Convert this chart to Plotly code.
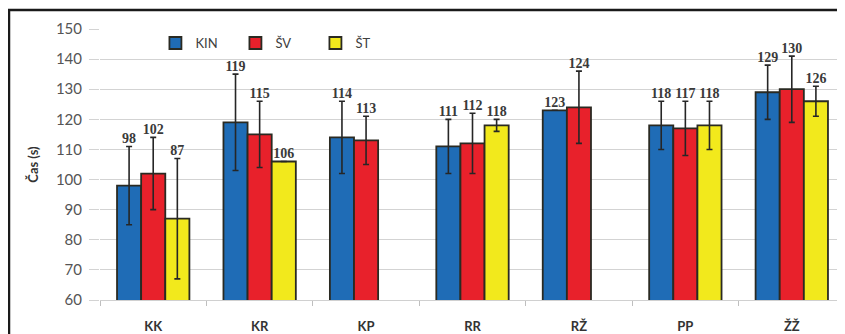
import plotly.graph_objects as go

categories = ["KK", "KR", "KP", "RR", "RŽ", "PP", "ŽŽ"]
series_names = ["KIN", "ŠV", "ŠT"]
kin_values = [98, 119, 114, 111, 123, 118, 129]
sv_values = [102, 115, 113, 112, 124, 117, 130]
st_values = [87, 106, None, 118, None, 118, 126]
kin_err = [13, 16, 12, 9, None, 8, 9]
sv_err = [12, 11, 8, 10, 12, 9, 11]
st_err = [20, None, None, 2, None, 8, 5]
y_ticks = [60, 70, 80, 90, 100, 110, 120, 130, 140, 150]

colors = ["#1f6cb6", "#e8212b", "#f2e91c"]
values = [kin_values, sv_values, st_values]
errors = [kin_err, sv_err, st_err]

fig = go.Figure()
for i, name in enumerate(series_names):
    fig.add_trace(go.Bar(
        x=categories, y=values[i], name=name, offsetgroup=str(i),
        marker=dict(color=colors[i], line=dict(color="#2a2a22", width=1.8)),
        error_y=dict(type="data", array=errors[i], visible=True,
                     color="#262626", thickness=1.6, width=3),
    ))

for i, name in enumerate(series_names):
    tops, texts = [], []
    for v, e in zip(values[i], errors[i]):
        if v is None:
            tops.append(None)
            texts.append("")
        else:
            tops.append(v + (e or 0))
            texts.append(str(v))
    fig.add_trace(go.Scatter(
        x=categories, y=tops, text=texts, mode="text", textposition="top center",
        offsetgroup=str(i), showlegend=False, hoverinfo="skip",
        textfont=dict(family="Liberation Serif", size=14, color="#3a3a3a", weight="bold"),
    ))

fig.update_layout(
    width=837, height=326,
    margin=dict(l=92, r=0, t=21, b=34, autoexpand=False),
    paper_bgcolor="white", plot_bgcolor="white",
    barmode="group", bargap=0.32, bargroupgap=0,
    scattermode="group", scattergap=0.32,
    font=dict(family="Lato", size=13, color="#4a4a4a"),
    showlegend=True,
    legend=dict(orientation="h", x=0.0744, y=1.0035, xanchor="left", yanchor="top",
                bgcolor="rgba(0,0,0,0)", font=dict(family="Lato", size=13, color="#404040"),
                itemwidth=30, entrywidth=35, entrywidthmode="pixels"),
    xaxis=dict(
        type="category", tickson="boundaries", ticks="outside", ticklen=5,
        tickcolor="#bfbfbf", showgrid=False, showline=True, linecolor="#d0d0d0",
        tickfont=dict(family="Lato", size=13, color="#333333", weight="bold"),
        ticklabelstandoff=14, automargin=False,
    ),
    yaxis=dict(
        range=[60, 150], tickvals=y_ticks, showgrid=True, gridcolor="#d3d3d3",
        gridwidth=1, zeroline=False, showline=False, ticks="outside", ticklen=10,
        tickcolor="#d3d3d3", automargin=False, ticklabelstandoff=4,
        tickfont=dict(family="Lato", size=15, color="#555555"),
        title=dict(text="Čas (s)", standoff=14,
                   font=dict(family="Lato", size=13, color="#333333", weight="bold")),
    ),
    shapes=[dict(type="rect", xref="paper", yref="paper",
                 x0=-91 / 745, x1=1.05, y0=-0.4, y1=290 / 271,
                 line=dict(color="#1a1a1a", width=2.5), fillcolor="rgba(0,0,0,0)")],
)

fig.write_html("out.html")
